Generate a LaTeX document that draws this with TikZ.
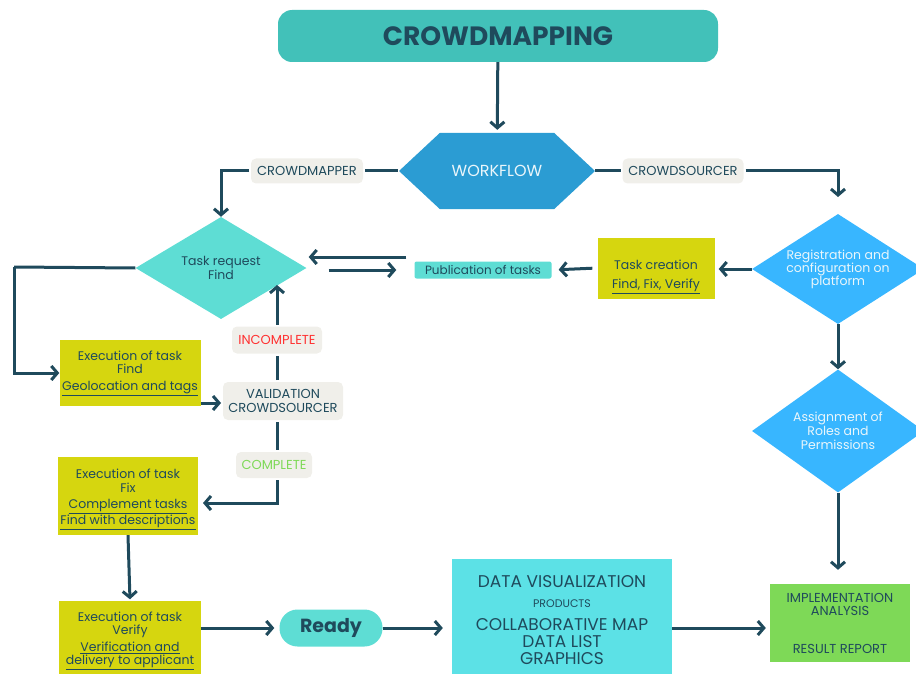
\documentclass[tikz,border=0pt]{standalone}
\usepackage{fontspec}
\setmainfont{Poppins}
\usetikzlibrary{arrows.meta,positioning,shapes.geometric,shapes.symbols}

\definecolor{navy}{HTML}{1F4A5C}
\definecolor{titleteal}{HTML}{42C1B9}
\definecolor{flowblue}{HTML}{2B9CD3}
\definecolor{aqua}{HTML}{5EDDD4}
\definecolor{skyblue}{HTML}{38B6FF}
\definecolor{mustard}{HTML}{D6D60F}
\definecolor{paper}{HTML}{F0EFEA}
\definecolor{alertred}{HTML}{FF3131}
\definecolor{leaf}{HTML}{7ED957}
\definecolor{vizcyan}{HTML}{5CE1E6}
\definecolor{pale}{HTML}{EAF6FB}

\begin{document}
\begin{tikzpicture}[
  x=1pt, y=-1pt,
  font=\fontsize{12.5}{13.5}\selectfont, text=navy,
  line/.style={draw=navy, line width=3pt},
  arr/.style={line, -{Straight Barb[length=6pt,width=14pt]}},
  titlebox/.style={fill=titleteal, rounded corners=14pt, minimum width=440pt, minimum height=52pt, font=\fontsize{26.5}{28}\selectfont\bfseries},
  flowhex/.style={signal, signal to=east and west, signal pointer angle=86, fill=flowblue, text=pale, minimum width=196pt, minimum height=76pt, inner sep=0pt, font=\fontsize{16}{17}\selectfont},
  tag/.style={fill=paper, rounded corners=5pt, align=center, minimum width=112pt, minimum height=25pt, inner sep=2pt, outer sep=2pt, font=\fontsize{13}{14}\selectfont},
  reqdia/.style={diamond, fill=aqua, align=center, minimum width=171pt, minimum height=102pt, inner sep=0pt},
  bluedia/.style={diamond, aspect=1.55, fill=skyblue, text=pale, align=center, minimum width=172pt, inner sep=0pt, font=\fontsize{12.5}{13}\selectfont},
  ybox/.style={fill=mustard, align=center, inner sep=2pt},
  pubbox/.style={fill=aqua, rounded corners=2pt, minimum width=137pt, minimum height=17pt, inner sep=1pt, font=\fontsize{12}{13}\selectfont},
  readybox/.style={fill=aqua, rounded corners=18pt, minimum width=103pt, minimum height=37pt, font=\fontsize{19}{20}\selectfont\bfseries},
  vizbox/.style={fill=vizcyan, align=center, minimum width=220pt, minimum height=122pt, font=\fontsize{17}{17}\selectfont},
  implbox/.style={fill=leaf, align=center, minimum width=140pt, minimum height=78pt, font=\fontsize{13}{13}\selectfont}
]
\useasboundingbox (0,0) rectangle (916,674);

% top of the flow
\node[titlebox] (title) at (498,36) {CROWDMAPPING};
\node[flowhex] (flow) at (497,171) {WORKFLOW};
\node[tag] (mapperlbl) at (307,171) {CROWDMAPPER};
\node[tag, minimum width=121pt] (sourcerlbl) at (683,171) {CROWDSOURCER};

% crowdsourcer side
\node[bluedia, minimum height=110pt] (reg) at (838,269) {Registration and\\configuration on\\platform};
\node[ybox, minimum width=117pt, minimum height=61pt] (create) at (656,268) {\rule{0pt}{27pt}Task creation\\[6pt]\underline{Find, Fix, Verify}};
\node[pubbox] (pub) at (483,270) {Publication of tasks};
\node[bluedia, minimum height=123pt, font=\fontsize{12.5}{14}\selectfont] (assign) at (838,431) {Assignment of\\Roles and\\Permissions};

% crowdmapper side
\node[reqdia] (req) at (221,268) {Task request\\Find};
\node[ybox, minimum width=141pt, minimum height=66pt] (find) at (130,373) {Execution of task\\Find\\[3pt]\underline{Geolocation and tags}};
\node[tag, minimum width=120pt, minimum height=38pt] (valid) at (283,401) {VALIDATION\\CROWDSOURCER};
\node[tag, minimum width=90pt, minimum height=27pt, text=alertred] (inc) at (277,340) {INCOMPLETE};
\node[tag, minimum width=76pt, minimum height=26pt, text=leaf] (comp) at (274,465) {COMPLETE};
\node[ybox, minimum width=140pt, minimum height=78pt] (fix) at (128,496) {\rule{0pt}{17pt}Execution of task\\Fix\\[3pt]\underline{Complement tasks}\\\underline{Find with descriptions}};
\node[ybox, minimum width=142pt, minimum height=81pt] (verify) at (130,641) {Execution of task\\Verify\\[3pt]\underline{Verification and}\\\underline{delivery to applicant}};

% results
\node[readybox] (ready) at (331,628) {Ready};
\node[vizbox] (viz) at (562,620) {DATA VISUALIZATION\\[3pt]{\fontsize{11}{12}\selectfont PRODUCTS}\\[6pt]COLLABORATIVE MAP\\DATA LIST\\GRAPHICS};
\node[implbox] (impl) at (840,623) {IMPLEMENTATION\\ANALYSIS\\[25pt]RESULT REPORT};

\coordinate (vx) at (277,0);
\coordinate (regin) at (838,197);
\coordinate (lft) at (14,267);
\coordinate (reqin) at (277,285);
\coordinate (fixin) at (198,503);

\draw[arr, shorten >=3pt] (title) -- (flow);
\draw[line, shorten <=1pt] (flow.west) -- (mapperlbl.east);
\draw[arr] (mapperlbl.west) -| (req.north);
\draw[line] (flow.east) -- (sourcerlbl.west);
\draw[arr] (sourcerlbl.east) -| (regin);
\draw[arr, shorten >=4pt] (reg.west) -- (reg.west -| create.east);
\draw[arr, shorten <=5pt, shorten >=7pt] (create.west) -- (pub.east);
\draw[arr, shorten <=8pt] ([yshift=13pt]pub.west) -- ([xshift=2pt,yshift=11pt]req.east);
\draw[arr, shorten <=22pt, shorten >=18pt] ([yshift=-2pt]req.east) -- (pub.west);
\draw[arr] (reg.south) -- (assign.north);
\draw[arr, shorten >=14pt] (assign.south) -- (impl.north -| assign);
\draw[line] (req.west) -- (lft);
\draw[arr] (lft) |- (find.west);
\draw[arr] (find.south east |- 0,403) -- (valid.west |- 0,403);
\draw[line] (valid.north -| vx) -- (inc.south -| vx);
\draw[arr] (inc.north -| vx) -- (reqin);
\draw[line] (valid.south -| vx) -- (comp.north -| vx);
\draw[arr, shorten >=5pt] (comp.south -| vx) |- (fixin);
\draw[arr, shorten >=1pt] (fix.south) -- (verify.north);
\draw[arr, shorten >=5pt] (verify.east |- ready) -- (ready.west);
\draw[arr, shorten >=9pt] (ready.east) -- (ready -| viz.west);
\draw[arr, shorten >=4pt] (viz.east |- 0,628) -- (impl.west |- 0,628);
\end{tikzpicture}
\end{document}
